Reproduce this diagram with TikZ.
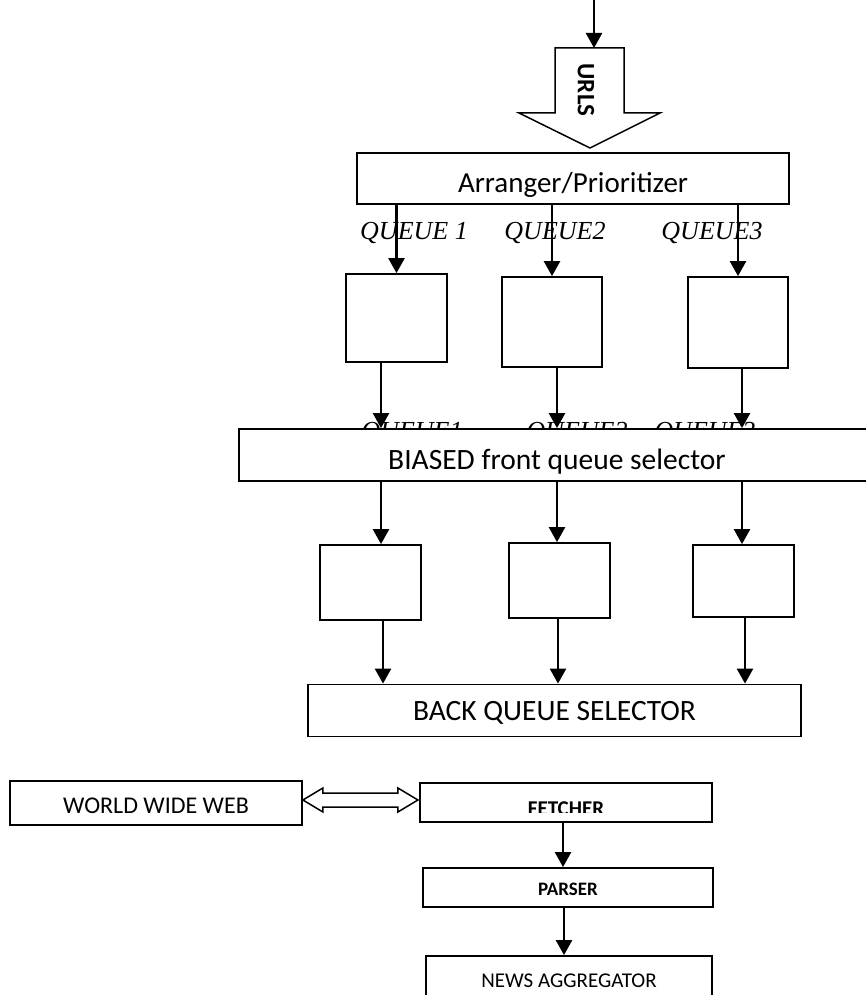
\documentclass[tikz,border=0pt]{standalone}
\usepackage{fontspec}
\setmainfont{Carlito}
\newfontfamily\qfont{Liberation Serif}
\usetikzlibrary{positioning,arrows.meta}
\newcommand{\fsz}[1]{\fontsize{#1}{#1}\selectfont}
\tikzset{
	box/.style={draw, rectangle, line width=1.8pt, fill=white, inner sep=0pt, text depth=0pt},
	qbox/.style={box, minimum width=101, minimum height=88},
	qlabel/.style={font=\qfont\itshape\fsz{26}, anchor=base, inner sep=0pt},
	flow/.style={line width=2.5pt, -{Triangle[length=15pt,width=16pt]}},
	hollow/.style={line width=1.5pt, fill=white, line join=miter},
}

\begin{document}
\begin{tikzpicture}[x=1pt, y=-1pt, every text node part/.style={align=center}]
	\useasboundingbox (0,0) rectangle (865,995);
	\coordinate (feed) at (594,-5);
	\coordinate (urlin) at (590,48);
	\coordinate (a1) at (381,0);
	\coordinate (a2) at (557,0);
	\coordinate (a3) at (742,0);
	\coordinate (b1) at (383,0);
	\coordinate (b2) at (558,0);
	\coordinate (b3) at (745,0);
	\coordinate (c1) at (563,0);

	\draw[flow] (feed) -- (feed |- urlin);
	\draw[hollow] (urlin) ++(-35,0) -- ++(69,0) -- ++(0,65) -- ++(36,0) -- ++(-70,35) -- ++(-71,-35) -- ++(36,0) -- cycle;
	\node[font=\bfseries\fsz{25}, rotate=-90] (urls) at (586,90) {URLS};

	\node[box, minimum width=432, minimum height=51, text height=27.6pt, font=\fsz{29}] (arr) at (573,178.5) {Arranger/Prioritizer};

	\node[qlabel] (lq1) at (414,239) {QUEUE 1};
	\node[qlabel] (lq2) at (555,239) {QUEUE2};
	\node[qlabel] (lq3) at (712,239) {QUEUE3};

	\node[qbox] (q1) at (396.5,318) {};
	\node[qbox, minimum width=100, minimum height=90] (q2) at (552,322) {};
	\node[qbox, minimum width=100, minimum height=91] (q3) at (738,322.5) {};

	\draw[flow] (q1.north |- arr.south) -- (q1.north);
	\draw[flow] (q2.north |- arr.south) -- (q2.north);
	\draw[flow] (q3.north |- arr.south) -- (q3.north);

	\node[qlabel] (hq1) at (412,439) {QUEUE1};
	\node[qlabel] (hq2) at (577,439) {QUEUE2};
	\node[qlabel] (hq3) at (705,439) {QUEUE3};

	\node[box, minimum width=636, minimum height=52, text height=28.6pt, font=\fsz{29.5}] (biased) at (557,455) {BIASED front queue selector};

	\draw[flow] (a1 |- q1.south) -- (a1 |- biased.north);
	\draw[flow] (a2 |- q2.south) -- (a2 |- biased.north);
	\draw[flow] (a3 |- q3.south) -- (a3 |- biased.north);

	\node[qbox, minimum height=75] (r1) at (370.5,582.5) {};
	\node[qbox, minimum height=75] (r2) at (559.5,580.5) {};
	\node[qbox, minimum height=72] (r3) at (743.5,581) {};

	\draw[flow] (a1 |- biased.south) -- (a1 |- r1.north);
	\draw[flow] (a2 |- biased.south) -- (a2 |- r2.north);
	\draw[flow] (a3 |- biased.south) -- (a3 |- r3.north);

	\node[box, minimum width=493, minimum height=52, font=\fsz{29.5}] (back) at (554.5,710.5) {BACK QUEUE SELECTOR};

	\draw[flow] (b1 |- r1.south) -- (b1 |- back.north);
	\draw[flow] (b2 |- r2.south) -- (b2 |- back.north);
	\draw[flow] (b3 |- r3.south) -- (b3 |- back.north);

	\node[box, minimum width=292, minimum height=44, text height=21.5pt, font=\fsz{24}] (www) at (156,803) {WORLD WIDE WEB};
	\node[box, minimum width=292, minimum height=39] (fetch) at (566,802.5) {};
	\begin{scope}
		\clip (fetch.north west) rectangle ([yshift=10pt]fetch.south east);
		\node[font=\bfseries\fsz{21}, anchor=base] (fetchtxt) at (566,815) {FETCHER};
	\end{scope}
	\draw[hollow] ([yshift=3pt]www.east) -- ++(20,-12) -- ++(0,5) -- ++(75,0) -- ++(0,-5) -- ++(20,12) -- ++(-20,12) -- ++(0,-5) -- ++(-75,0) -- ++(0,5) -- cycle;

	\node[box, minimum width=290, minimum height=39, text height=16.2pt, font=\bfseries\fsz{19}] (parse) at (568,887.5) {PARSER};
	\node[box, minimum width=286, minimum height=44, text height=19.6pt, font=\fsz{21}] (news) at (569,978) {NEWS AGGREGATOR};

	\draw[flow] (c1 |- fetch.south) -- (c1 |- parse.north);
	\draw[flow] ([xshift=1pt]c1 |- parse.south) -- ([xshift=1pt]c1 |- news.north);
\end{tikzpicture}
\end{document}
